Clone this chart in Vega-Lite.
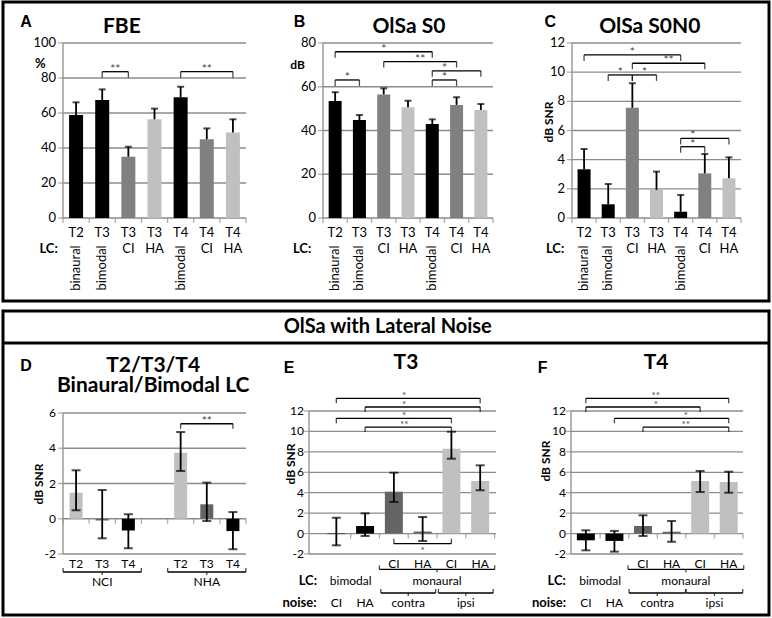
{
"$schema":"https://vega.github.io/schema/vega-lite/v6.json",
"padding":0,
"background":"#ffffff",
"config":{"view":{"stroke":"#000000","strokeWidth":3},"axis":{"disable":true},"legend":{"disable":true},"text":{"font":"Lato","fontSize":12,"color":"#000000"},"tick":{"color":"#000000"},"rule":{"color":"#000000"}},
"datasets":{
"A":[{"i":0,"t":"T2","lc":"binaural","v":58.9,"hi":66.1,"c":"k"},{"i":1,"t":"T3","lc":"bimodal","v":67.4,"hi":73.5,"c":"k"},{"i":2,"t":"T3","lc":"CI","v":35.0,"hi":40.7,"c":"d"},{"i":3,"t":"T3","lc":"HA","v":56.4,"hi":62.5,"c":"l"},{"i":4,"t":"T4","lc":"bimodal","v":69.0,"hi":75.0,"c":"k"},{"i":5,"t":"T4","lc":"CI","v":45.0,"hi":51.2,"c":"d"},{"i":6,"t":"T4","lc":"HA","v":48.8,"hi":56.4,"c":"l"}],
"Ab":[{"a":1,"b":2,"h":83.6,"m":1.5,"s":"**"},{"a":4,"b":6,"h":83.6,"m":5,"s":"**"}],
"B":[{"i":0,"t":"T2","lc":"binaural","v":53.5,"hi":57.5,"c":"k"},{"i":1,"t":"T3","lc":"bimodal","v":44.8,"hi":47.1,"c":"k"},{"i":2,"t":"T3","lc":"CI","v":56.5,"hi":59.3,"c":"d"},{"i":3,"t":"T3","lc":"HA","v":50.6,"hi":53.6,"c":"l"},{"i":4,"t":"T4","lc":"bimodal","v":43.0,"hi":45.1,"c":"k"},{"i":5,"t":"T4","lc":"CI","v":51.7,"hi":55.2,"c":"d"},{"i":6,"t":"T4","lc":"HA","v":49.4,"hi":52.1,"c":"l"}],
"Bb":[{"a":0,"b":4,"h":76.0,"m":2,"s":"*"},{"a":2,"b":5,"h":71.5,"m":3.5,"s":"**"},{"a":4,"b":6,"h":67.3,"m":4.5,"s":"*"},{"a":4,"b":5,"h":63.1,"m":4.5,"s":"*"},{"a":0,"b":1,"h":63.1,"m":0.5,"s":"*"}],
"C":[{"i":0,"t":"T2","lc":"binaural","v":3.34,"hi":4.73,"c":"k"},{"i":1,"t":"T3","lc":"bimodal","v":0.94,"hi":2.33,"c":"k"},{"i":2,"t":"T3","lc":"CI","v":7.56,"hi":9.24,"c":"d"},{"i":3,"t":"T3","lc":"HA","v":1.92,"hi":3.18,"c":"l"},{"i":4,"t":"T4","lc":"bimodal","v":0.43,"hi":1.58,"c":"k"},{"i":5,"t":"T4","lc":"CI","v":3.06,"hi":4.39,"c":"d"},{"i":6,"t":"T4","lc":"HA","v":2.72,"hi":4.16,"c":"l"}],
"Cb":[{"a":0,"b":4,"h":11.18,"m":2,"s":"*"},{"a":2,"b":5,"h":10.61,"m":3.5,"s":"**"},{"a":1,"b":2,"h":9.81,"m":1.5,"s":"*"},{"a":2,"b":3,"h":9.81,"m":2.5,"s":"*"},{"a":4,"b":6,"h":5.46,"m":4.5,"s":"*"},{"a":4,"b":5,"h":4.89,"m":4.5,"s":"*"}],
"D":[{"i":0,"g":"NCI","t":"T2","v":1.48,"lo":0.48,"hi":2.75,"c":"l"},{"i":1,"g":"NCI","t":"T3","v":-0.1,"lo":-1.11,"hi":1.63,"c":"e"},{"i":2,"g":"NCI","t":"T4","v":-0.66,"lo":-1.68,"hi":0.25,"c":"k"},{"i":4,"g":"NHA","t":"T2","v":3.75,"lo":2.71,"hi":4.92,"c":"l"},{"i":5,"g":"NHA","t":"T3","v":0.82,"lo":-0.13,"hi":2.05,"c":"e"},{"i":6,"g":"NHA","t":"T4","v":-0.7,"lo":-1.73,"hi":0.38,"c":"k"}],
"Db":[{"a":4,"b":6,"h":5.39,"m":5,"s":"**"}],
"E":[{"i":0,"lc":"bimodal","dev":"","noise":"CI","v":-0.05,"lo":-1.15,"hi":1.55,"c":"k"},{"i":1,"lc":"bimodal","dev":"","noise":"HA","v":0.74,"lo":-0.24,"hi":1.98,"c":"k"},{"i":2,"lc":"monaural","dev":"CI","noise":"contra","v":4.1,"lo":3.09,"hi":5.96,"c":"e"},{"i":3,"lc":"monaural","dev":"HA","noise":"contra","v":0.2,"lo":-0.73,"hi":1.62,"c":"e"},{"i":4,"lc":"monaural","dev":"CI","noise":"ipsi","v":8.31,"lo":7.33,"hi":9.97,"c":"l"},{"i":5,"lc":"monaural","dev":"HA","noise":"ipsi","v":5.15,"lo":4.24,"hi":6.68,"c":"l"}],
"Eb":[{"a":0,"b":5,"h":13.24,"m":2.36,"s":"*"},{"a":1,"b":5,"h":12.39,"m":2.36,"s":"*"},{"a":0,"b":4,"h":11.28,"m":2.36,"s":"*"},{"a":1,"b":4,"h":10.43,"m":2.36,"s":"**"}],
"El":[{"a":2,"b":4,"h":-0.99,"m":3,"s":"*"}],
"F":[{"i":0,"lc":"bimodal","dev":"","noise":"CI","v":-0.66,"lo":-1.64,"hi":0.32,"c":"k"},{"i":1,"lc":"bimodal","dev":"","noise":"HA","v":-0.72,"lo":-1.77,"hi":0.26,"c":"k"},{"i":2,"lc":"monaural","dev":"CI","noise":"contra","v":0.74,"lo":-0.24,"hi":1.79,"c":"e"},{"i":3,"lc":"monaural","dev":"HA","noise":"contra","v":0.18,"lo":-0.8,"hi":1.23,"c":"e"},{"i":4,"lc":"monaural","dev":"CI","noise":"ipsi","v":5.15,"lo":4.07,"hi":6.13,"c":"l"},{"i":5,"lc":"monaural","dev":"HA","noise":"ipsi","v":5.05,"lo":4.0,"hi":6.06,"c":"l"}],
"Fb":[{"a":0,"b":5,"h":13.24,"m":2.45,"s":"**"},{"a":0,"b":4,"h":12.39,"m":2.45,"s":"*"},{"a":1,"b":5,"h":11.28,"m":3.5,"s":"*"},{"a":2,"b":5,"h":10.43,"m":3.5,"s":"**"}]
},
"spacing":6,
"vconcat":[
{"width":766,"height":299,"resolve":{"scale":{"x":"independent","y":"independent"}},
"layer":[
{"layer":[
 {"data":{"values":[{"y":0},{"y":20},{"y":40},{"y":60},{"y":80},{"y":100}]},"layer":[
  {"mark":{"type":"rule","color":"#8c8c8c","strokeWidth":1.3},"encoding":{"x":{"datum":-0.5,"type":"quantitative","scale":{"domain":[-0.5,6.5],"range":[55,248],"nice":false,"zero":false}},"x2":{"datum":6.5},"y":{"field":"y","type":"quantitative","scale":{"domain":[0,100],"range":[216,41],"nice":false,"zero":false}}}},
  {"mark":{"type":"tick","orient":"horizontal","color":"#8c8c8c","thickness":1.3,"xOffset":-2.5},"encoding":{"x":{"datum":-0.5,"type":"quantitative"},"y":{"field":"y","type":"quantitative"},"size":{"value":5}}},
  {"mark":{"type":"text","align":"right","dx":-7,"fontSize":13},"encoding":{"x":{"datum":-0.5,"type":"quantitative"},"y":{"field":"y","type":"quantitative"},"text":{"field":"y","type":"nominal"}}}
 ]},
 {"data":{"values":[{"x":-0.5},{"x":0.5},{"x":1.5},{"x":2.5},{"x":3.5},{"x":4.5},{"x":5.5},{"x":6.5}]},"mark":{"type":"tick","orient":"vertical","color":"#8c8c8c","thickness":1.3,"yOffset":2.5},"encoding":{"x":{"field":"x","type":"quantitative"},"y":{"datum":0,"type":"quantitative"},"size":{"value":5}}},
 {"data":{"values":[{}]},"layer":[
  {"mark":{"type":"rule","color":"#8c8c8c","strokeWidth":1.3},"encoding":{"x":{"datum":-0.5,"type":"quantitative"},"y":{"datum":0,"type":"quantitative"},"y2":{"datum":100}}},
  {"mark":{"type":"text","text":"FBE","fontSize":21,"fontWeight":"bold"},"encoding":{"x":{"datum":1.75,"type":"quantitative"},"y":{"datum":109.1,"type":"quantitative"}}},
  {"mark":{"type":"text","text":"A","font":"Liberation Sans","fontSize":16,"fontWeight":"bold"},"encoding":{"x":{"datum":-1.91,"type":"quantitative"},"y":{"datum":112,"type":"quantitative"}}},
  {"mark":{"type":"text","text":"%","fontSize":13,"fontWeight":"bold"},"encoding":{"x":{"datum":-1.37,"type":"quantitative"},"y":{"datum":88,"type":"quantitative"}}},
  {"mark":{"type":"text","text":"LC:","fontSize":13,"fontWeight":"bold"},"encoding":{"x":{"datum":-1.05,"type":"quantitative"},"y":{"datum":-17.7,"type":"quantitative"}}}
 ]},
 {"data":{"name":"A"},"layer":[
  {"mark":{"type":"bar","size":14},"encoding":{"x":{"field":"i","type":"quantitative"},"y":{"field":"v","type":"quantitative"},"y2":{"datum":0},"color":{"field":"c","type":"nominal","scale":{"domain":["k","d","e","l"],"range":["#000000","#808080","#646464","#c0c0c0"]},"legend":null}}},
  {"mark":{"type":"rule","strokeWidth":1.8},"encoding":{"x":{"field":"i","type":"quantitative"},"y":{"field":"v","type":"quantitative"},"y2":{"field":"hi"}}},
  {"mark":{"type":"tick","orient":"horizontal","thickness":2},"encoding":{"x":{"field":"i","type":"quantitative"},"y":{"field":"hi","type":"quantitative"},"size":{"value":7}}},
  {"mark":{"type":"text","fontSize":13},"encoding":{"x":{"field":"i","type":"quantitative"},"y":{"datum":-8.6,"type":"quantitative"},"text":{"field":"t","type":"nominal"}}},
  {"transform":[{"filter":"datum.c != 'k'"}],"mark":{"type":"text","fontSize":13},"encoding":{"x":{"field":"i","type":"quantitative"},"y":{"datum":-17.7,"type":"quantitative"},"text":{"field":"lc","type":"nominal"}}},
  {"transform":[{"filter":"datum.c == 'k'"}],"mark":{"type":"text","fontSize":13,"angle":270,"align":"right"},"encoding":{"x":{"field":"i","type":"quantitative"},"y":{"datum":-15.6,"type":"quantitative"},"text":{"field":"lc","type":"nominal"}}}
 ]},
 {"data":{"name":"Ab"},"layer":[
  {"mark":{"type":"rule","strokeWidth":1.3},"encoding":{"x":{"field":"a","type":"quantitative"},"x2":{"field":"b"},"y":{"field":"h","type":"quantitative"}}},
  {"mark":{"type":"tick","orient":"vertical","thickness":1.3,"yOffset":3},"encoding":{"x":{"field":"a","type":"quantitative"},"y":{"field":"h","type":"quantitative"},"size":{"value":6}}},
  {"mark":{"type":"tick","orient":"vertical","thickness":1.3,"yOffset":3},"encoding":{"x":{"field":"b","type":"quantitative"},"y":{"field":"h","type":"quantitative"},"size":{"value":6}}},
  {"mark":{"type":"text","fontSize":12,"color":"#444444","dy":-3},"encoding":{"x":{"field":"m","type":"quantitative"},"y":{"field":"h","type":"quantitative"},"text":{"field":"s","type":"nominal"}}}
 ]}
]},
{"layer":[
 {"data":{"values":[{"y":0},{"y":20},{"y":40},{"y":60},{"y":80}]},"layer":[
  {"mark":{"type":"rule","color":"#8c8c8c","strokeWidth":1.3},"encoding":{"x":{"datum":-0.5,"type":"quantitative","scale":{"domain":[-0.5,6.5],"range":[315,495],"nice":false,"zero":false}},"x2":{"datum":6.5},"y":{"field":"y","type":"quantitative","scale":{"domain":[0,80],"range":[216,41],"nice":false,"zero":false}}}},
  {"mark":{"type":"tick","orient":"horizontal","color":"#8c8c8c","thickness":1.3,"xOffset":-2.5},"encoding":{"x":{"datum":-0.5,"type":"quantitative"},"y":{"field":"y","type":"quantitative"},"size":{"value":5}}},
  {"mark":{"type":"text","align":"right","dx":-7,"fontSize":13},"encoding":{"x":{"datum":-0.5,"type":"quantitative"},"y":{"field":"y","type":"quantitative"},"text":{"field":"y","type":"nominal"}}}
 ]},
 {"data":{"values":[{"x":-0.5},{"x":0.5},{"x":1.5},{"x":2.5},{"x":3.5},{"x":4.5},{"x":5.5},{"x":6.5}]},"mark":{"type":"tick","orient":"vertical","color":"#8c8c8c","thickness":1.3,"yOffset":2.5},"encoding":{"x":{"field":"x","type":"quantitative"},"y":{"datum":0,"type":"quantitative"},"size":{"value":5}}},
 {"data":{"values":[{}]},"layer":[
  {"mark":{"type":"rule","color":"#8c8c8c","strokeWidth":1.3},"encoding":{"x":{"datum":-0.5,"type":"quantitative"},"y":{"datum":0,"type":"quantitative"},"y2":{"datum":80}}},
  {"mark":{"type":"text","text":"OlSa S0","fontSize":21,"fontWeight":"bold"},"encoding":{"x":{"datum":3.04,"type":"quantitative"},"y":{"datum":87.3,"type":"quantitative"}}},
  {"mark":{"type":"text","text":"B","font":"Liberation Sans","fontSize":16,"fontWeight":"bold"},"encoding":{"x":{"datum":-1.47,"type":"quantitative"},"y":{"datum":89.6,"type":"quantitative"}}},
  {"mark":{"type":"text","text":"dB","fontSize":12,"fontWeight":"bold"},"encoding":{"x":{"datum":-1.55,"type":"quantitative"},"y":{"datum":69.9,"type":"quantitative"}}},
  {"mark":{"type":"text","text":"LC:","fontSize":13,"fontWeight":"bold"},"encoding":{"x":{"datum":-1.36,"type":"quantitative"},"y":{"datum":-14.2,"type":"quantitative"}}}
 ]},
 {"data":{"name":"B"},"layer":[
  {"mark":{"type":"bar","size":13},"encoding":{"x":{"field":"i","type":"quantitative"},"y":{"field":"v","type":"quantitative"},"y2":{"datum":0},"color":{"field":"c","type":"nominal","scale":{"domain":["k","d","e","l"],"range":["#000000","#808080","#646464","#c0c0c0"]},"legend":null}}},
  {"mark":{"type":"rule","strokeWidth":1.8},"encoding":{"x":{"field":"i","type":"quantitative"},"y":{"field":"v","type":"quantitative"},"y2":{"field":"hi"}}},
  {"mark":{"type":"tick","orient":"horizontal","thickness":2},"encoding":{"x":{"field":"i","type":"quantitative"},"y":{"field":"hi","type":"quantitative"},"size":{"value":7}}},
  {"mark":{"type":"text","fontSize":13},"encoding":{"x":{"field":"i","type":"quantitative"},"y":{"datum":-6.86,"type":"quantitative"},"text":{"field":"t","type":"nominal"}}},
  {"transform":[{"filter":"datum.c != 'k'"}],"mark":{"type":"text","fontSize":13},"encoding":{"x":{"field":"i","type":"quantitative"},"y":{"datum":-14.17,"type":"quantitative"},"text":{"field":"lc","type":"nominal"}}},
  {"transform":[{"filter":"datum.c == 'k'"}],"mark":{"type":"text","fontSize":13,"angle":270,"align":"right"},"encoding":{"x":{"field":"i","type":"quantitative"},"y":{"datum":-12.5,"type":"quantitative"},"text":{"field":"lc","type":"nominal"}}}
 ]},
 {"data":{"name":"Bb"},"layer":[
  {"mark":{"type":"rule","strokeWidth":1.3},"encoding":{"x":{"field":"a","type":"quantitative"},"x2":{"field":"b"},"y":{"field":"h","type":"quantitative"}}},
  {"mark":{"type":"tick","orient":"vertical","thickness":1.3,"yOffset":3},"encoding":{"x":{"field":"a","type":"quantitative"},"y":{"field":"h","type":"quantitative"},"size":{"value":6}}},
  {"mark":{"type":"tick","orient":"vertical","thickness":1.3,"yOffset":3},"encoding":{"x":{"field":"b","type":"quantitative"},"y":{"field":"h","type":"quantitative"},"size":{"value":6}}},
  {"mark":{"type":"text","fontSize":12,"color":"#444444","dy":-3},"encoding":{"x":{"field":"m","type":"quantitative"},"y":{"field":"h","type":"quantitative"},"text":{"field":"s","type":"nominal"}}}
 ]}
]},
{"layer":[
 {"data":{"values":[{"y":0},{"y":2},{"y":4},{"y":6},{"y":8},{"y":10},{"y":12}]},"layer":[
  {"mark":{"type":"rule","color":"#8c8c8c","strokeWidth":1.3},"encoding":{"x":{"datum":-0.5,"type":"quantitative","scale":{"domain":[-0.5,6.5],"range":[564,743],"nice":false,"zero":false}},"x2":{"datum":6.5},"y":{"field":"y","type":"quantitative","scale":{"domain":[0,12],"range":[216,41],"nice":false,"zero":false}}}},
  {"mark":{"type":"tick","orient":"horizontal","color":"#8c8c8c","thickness":1.3,"xOffset":-2.5},"encoding":{"x":{"datum":-0.5,"type":"quantitative"},"y":{"field":"y","type":"quantitative"},"size":{"value":5}}},
  {"mark":{"type":"text","align":"right","dx":-7,"fontSize":13},"encoding":{"x":{"datum":-0.5,"type":"quantitative"},"y":{"field":"y","type":"quantitative"},"text":{"field":"y","type":"nominal"}}}
 ]},
 {"data":{"values":[{"x":-0.5},{"x":0.5},{"x":1.5},{"x":2.5},{"x":3.5},{"x":4.5},{"x":5.5},{"x":6.5}]},"mark":{"type":"tick","orient":"vertical","color":"#8c8c8c","thickness":1.3,"yOffset":2.5},"encoding":{"x":{"field":"x","type":"quantitative"},"y":{"datum":0,"type":"quantitative"},"size":{"value":5}}},
 {"data":{"values":[{}]},"layer":[
  {"mark":{"type":"rule","color":"#8c8c8c","strokeWidth":1.3},"encoding":{"x":{"datum":-0.5,"type":"quantitative"},"y":{"datum":0,"type":"quantitative"},"y2":{"datum":12}}},
  {"mark":{"type":"text","text":"OlSa S0N0","fontSize":21,"fontWeight":"bold"},"encoding":{"x":{"datum":2.72,"type":"quantitative"},"y":{"datum":13.1,"type":"quantitative"}}},
  {"mark":{"type":"text","text":"C","font":"Liberation Sans","fontSize":16,"fontWeight":"bold"},"encoding":{"x":{"datum":-1.4,"type":"quantitative"},"y":{"datum":13.44,"type":"quantitative"}}},
  {"mark":{"type":"text","text":"dB SNR","fontSize":12,"fontWeight":"bold","angle":270},"encoding":{"x":{"datum":-1.45,"type":"quantitative"},"y":{"datum":6.58,"type":"quantitative"}}},
  {"mark":{"type":"text","text":"LC:","fontSize":13,"fontWeight":"bold"},"encoding":{"x":{"datum":-1.2,"type":"quantitative"},"y":{"datum":-2.13,"type":"quantitative"}}}
 ]},
 {"data":{"name":"C"},"layer":[
  {"mark":{"type":"bar","size":13},"encoding":{"x":{"field":"i","type":"quantitative"},"y":{"field":"v","type":"quantitative"},"y2":{"datum":0},"color":{"field":"c","type":"nominal","scale":{"domain":["k","d","e","l"],"range":["#000000","#808080","#646464","#c0c0c0"]},"legend":null}}},
  {"mark":{"type":"rule","strokeWidth":1.8},"encoding":{"x":{"field":"i","type":"quantitative"},"y":{"field":"v","type":"quantitative"},"y2":{"field":"hi"}}},
  {"mark":{"type":"tick","orient":"horizontal","thickness":2},"encoding":{"x":{"field":"i","type":"quantitative"},"y":{"field":"hi","type":"quantitative"},"size":{"value":7}}},
  {"mark":{"type":"text","fontSize":13},"encoding":{"x":{"field":"i","type":"quantitative"},"y":{"datum":-1.03,"type":"quantitative"},"text":{"field":"t","type":"nominal"}}},
  {"transform":[{"filter":"datum.c != 'k'"}],"mark":{"type":"text","fontSize":13},"encoding":{"x":{"field":"i","type":"quantitative"},"y":{"datum":-2.13,"type":"quantitative"},"text":{"field":"lc","type":"nominal"}}},
  {"transform":[{"filter":"datum.c == 'k'"}],"mark":{"type":"text","fontSize":13,"angle":270,"align":"right"},"encoding":{"x":{"field":"i","type":"quantitative"},"y":{"datum":-1.88,"type":"quantitative"},"text":{"field":"lc","type":"nominal"}}}
 ]},
 {"data":{"name":"Cb"},"layer":[
  {"mark":{"type":"rule","strokeWidth":1.3},"encoding":{"x":{"field":"a","type":"quantitative"},"x2":{"field":"b"},"y":{"field":"h","type":"quantitative"}}},
  {"mark":{"type":"tick","orient":"vertical","thickness":1.3,"yOffset":3},"encoding":{"x":{"field":"a","type":"quantitative"},"y":{"field":"h","type":"quantitative"},"size":{"value":6}}},
  {"mark":{"type":"tick","orient":"vertical","thickness":1.3,"yOffset":3},"encoding":{"x":{"field":"b","type":"quantitative"},"y":{"field":"h","type":"quantitative"},"size":{"value":6}}},
  {"mark":{"type":"text","fontSize":12,"color":"#444444","dy":-3},"encoding":{"x":{"field":"m","type":"quantitative"},"y":{"field":"h","type":"quantitative"},"text":{"field":"s","type":"nominal"}}}
 ]}
]}
]},
{"width":766,"height":304,"resolve":{"scale":{"x":"independent","y":"independent"}},
"layer":[
{"layer":[
 {"data":{"values":[{"y":-2},{"y":0},{"y":2},{"y":4},{"y":6}]},"layer":[
  {"mark":{"type":"rule","color":"#8c8c8c","strokeWidth":1.3},"encoding":{"x":{"datum":-0.5,"type":"quantitative","scale":{"domain":[-0.5,6.5],"range":[55,248],"nice":false,"zero":false}},"x2":{"datum":6.5},"y":{"field":"y","type":"quantitative","scale":{"domain":[-2,6],"range":[243,102],"nice":false,"zero":false}}}},
  {"mark":{"type":"tick","orient":"horizontal","color":"#8c8c8c","thickness":1.3,"xOffset":-2.5},"encoding":{"x":{"datum":-0.5,"type":"quantitative"},"y":{"field":"y","type":"quantitative"},"size":{"value":5}}},
  {"mark":{"type":"text","align":"right","dx":-7},"encoding":{"x":{"datum":-0.5,"type":"quantitative"},"y":{"field":"y","type":"quantitative"},"text":{"field":"y","type":"nominal"}}}
 ]},
 {"data":{"values":[{"x":-0.5},{"x":0.5},{"x":1.5},{"x":2.5},{"x":3.5},{"x":4.5},{"x":5.5},{"x":6.5}]},"mark":{"type":"tick","orient":"vertical","color":"#8c8c8c","thickness":1.3,"yOffset":2.5},"encoding":{"x":{"field":"x","type":"quantitative"},"y":{"datum":0,"type":"quantitative"},"size":{"value":5}}},
 {"data":{"values":[{}]},"layer":[
  {"mark":{"type":"rule","color":"#8c8c8c","strokeWidth":1.3},"encoding":{"x":{"datum":-0.5,"type":"quantitative"},"y":{"datum":-2,"type":"quantitative"},"y2":{"datum":6}}},
  {"mark":{"type":"text","text":"T2/T3/T4","fontSize":21,"fontWeight":"bold"},"encoding":{"x":{"datum":2.95,"type":"quantitative"},"y":{"datum":8.67,"type":"quantitative"}}},
  {"mark":{"type":"text","text":"Binaural/Bimodal LC","fontSize":21,"fontWeight":"bold"},"encoding":{"x":{"datum":2.95,"type":"quantitative"},"y":{"datum":7.53,"type":"quantitative"}}},
  {"mark":{"type":"text","text":"D","font":"Liberation Sans","fontSize":16,"fontWeight":"bold"},"encoding":{"x":{"datum":-1.91,"type":"quantitative"},"y":{"datum":8.67,"type":"quantitative"}}},
  {"mark":{"type":"text","text":"dB SNR","fontSize":12,"fontWeight":"bold","angle":270},"encoding":{"x":{"datum":-1.4,"type":"quantitative"},"y":{"datum":1.97,"type":"quantitative"}}}
 ]},
 {"data":{"name":"D"},"layer":[
  {"mark":{"type":"bar","size":13},"encoding":{"x":{"field":"i","type":"quantitative"},"y":{"field":"v","type":"quantitative"},"y2":{"datum":0},"color":{"field":"c","type":"nominal","scale":{"domain":["k","d","e","l"],"range":["#000000","#808080","#646464","#c0c0c0"]},"legend":null}}},
  {"mark":{"type":"rule","strokeWidth":1.8},"encoding":{"x":{"field":"i","type":"quantitative"},"y":{"field":"lo","type":"quantitative"},"y2":{"field":"hi"}}},
  {"mark":{"type":"tick","orient":"horizontal","thickness":2},"encoding":{"x":{"field":"i","type":"quantitative"},"y":{"field":"hi","type":"quantitative"},"size":{"value":9}}},
  {"mark":{"type":"tick","orient":"horizontal","thickness":2},"encoding":{"x":{"field":"i","type":"quantitative"},"y":{"field":"lo","type":"quantitative"},"size":{"value":9}}},
  {"mark":{"type":"text","fontSize":12},"encoding":{"x":{"field":"i","type":"quantitative"},"y":{"datum":-2.57,"type":"quantitative"},"text":{"field":"t","type":"nominal"}}}
 ]},
 {"data":{"name":"D"},"transform":[{"aggregate":[{"op":"min","field":"i","as":"mn"},{"op":"max","field":"i","as":"mx"},{"op":"mean","field":"i","as":"me"}],"groupby":["g"]}],"layer":[
  {"mark":{"type":"text","fontSize":12},"encoding":{"x":{"field":"me","type":"quantitative"},"y":{"datum":-3.58,"type":"quantitative"},"text":{"field":"g","type":"nominal"}}},
  {"mark":{"type":"rule","strokeWidth":1.3,"xOffset":-13,"x2Offset":13},"encoding":{"x":{"field":"mn","type":"quantitative"},"x2":{"field":"mx"},"y":{"datum":-3.02,"type":"quantitative"}}},
  {"mark":{"type":"tick","orient":"vertical","thickness":1.3,"xOffset":-13,"yOffset":-2},"encoding":{"x":{"field":"mn","type":"quantitative"},"y":{"datum":-3.02,"type":"quantitative"},"size":{"value":4}}},
  {"mark":{"type":"tick","orient":"vertical","thickness":1.3,"xOffset":13,"yOffset":-2},"encoding":{"x":{"field":"mx","type":"quantitative"},"y":{"datum":-3.02,"type":"quantitative"},"size":{"value":4}}},
  {"mark":{"type":"tick","orient":"vertical","thickness":1.3,"yOffset":1.5},"encoding":{"x":{"field":"me","type":"quantitative"},"y":{"datum":-3.02,"type":"quantitative"},"size":{"value":3}}}
 ]},
 {"data":{"name":"Db"},"layer":[
  {"mark":{"type":"rule","strokeWidth":1.3},"encoding":{"x":{"field":"a","type":"quantitative"},"x2":{"field":"b"},"y":{"field":"h","type":"quantitative"}}},
  {"mark":{"type":"tick","orient":"vertical","thickness":1.3,"yOffset":2.5},"encoding":{"x":{"field":"a","type":"quantitative"},"y":{"field":"h","type":"quantitative"},"size":{"value":5}}},
  {"mark":{"type":"tick","orient":"vertical","thickness":1.3,"yOffset":2.5},"encoding":{"x":{"field":"b","type":"quantitative"},"y":{"field":"h","type":"quantitative"},"size":{"value":5}}},
  {"mark":{"type":"text","fontSize":12,"color":"#444444","dy":-3},"encoding":{"x":{"field":"m","type":"quantitative"},"y":{"field":"h","type":"quantitative"},"text":{"field":"s","type":"nominal"}}}
 ]}
]},
{"layer":[
 {"data":{"values":[{"y":-2},{"y":0},{"y":2},{"y":4},{"y":6},{"y":8},{"y":10},{"y":12}]},"layer":[
  {"mark":{"type":"rule","color":"#8c8c8c","strokeWidth":1.3},"encoding":{"x":{"datum":-0.95,"type":"quantitative","scale":{"domain":[-0.95,5.55],"range":[301,498],"nice":false,"zero":false}},"x2":{"datum":5.55},"y":{"field":"y","type":"quantitative","scale":{"domain":[-2,12],"range":[243,100],"nice":false,"zero":false}}}},
  {"mark":{"type":"tick","orient":"horizontal","color":"#8c8c8c","thickness":1.3,"xOffset":-2.5},"encoding":{"x":{"datum":-0.95,"type":"quantitative"},"y":{"field":"y","type":"quantitative"},"size":{"value":5}}},
  {"mark":{"type":"text","align":"right","dx":-5},"encoding":{"x":{"datum":-0.95,"type":"quantitative"},"y":{"field":"y","type":"quantitative"},"text":{"field":"y","type":"nominal"}}}
 ]},
 {"data":{"values":[{"x":0.5},{"x":1.5},{"x":2.5},{"x":3.5},{"x":4.5},{"x":5.5}]},"mark":{"type":"tick","orient":"vertical","color":"#8c8c8c","thickness":1.3,"yOffset":2.5},"encoding":{"x":{"field":"x","type":"quantitative"},"y":{"datum":0,"type":"quantitative"},"size":{"value":5}}},
 {"data":{"values":[{}]},"layer":[
  {"mark":{"type":"rule","color":"#8c8c8c","strokeWidth":1.3},"encoding":{"x":{"datum":-0.95,"type":"quantitative"},"y":{"datum":-2,"type":"quantitative"},"y2":{"datum":12}}},
  {"mark":{"type":"rule","color":"#000000","strokeWidth":3},"encoding":{"y":{"datum":18.66,"type":"quantitative"}}},
  {"mark":{"type":"text","text":"OlSa with Lateral Noise","fontSize":20,"fontWeight":"bold"},"encoding":{"x":{"datum":1.79,"type":"quantitative"},"y":{"datum":20.22,"type":"quantitative"}}},
  {"mark":{"type":"text","text":"T3","fontSize":21,"fontWeight":"bold"},"encoding":{"x":{"datum":2.42,"type":"quantitative"},"y":{"datum":16.73,"type":"quantitative"}}},
  {"mark":{"type":"text","text":"E","font":"Liberation Sans","fontSize":16,"fontWeight":"bold"},"encoding":{"x":{"datum":-1.64,"type":"quantitative"},"y":{"datum":16.24,"type":"quantitative"}}},
  {"mark":{"type":"text","text":"dB SNR","fontSize":12,"fontWeight":"bold","angle":270},"encoding":{"x":{"datum":-1.56,"type":"quantitative"},"y":{"datum":6.81,"type":"quantitative"}}},
  {"mark":{"type":"text","text":"LC:","fontSize":13,"fontWeight":"bold"},"encoding":{"x":{"datum":-0.99,"type":"quantitative"},"y":{"datum":-4.64,"type":"quantitative"}}},
  {"mark":{"type":"text","text":"noise:","fontSize":13,"fontWeight":"bold"},"encoding":{"x":{"datum":-1.28,"type":"quantitative"},"y":{"datum":-6.77,"type":"quantitative"}}}
 ]},
 {"data":{"name":"E"},"layer":[
  {"mark":{"type":"bar","size":18},"encoding":{"x":{"field":"i","type":"quantitative"},"y":{"field":"v","type":"quantitative"},"y2":{"datum":0},"color":{"field":"c","type":"nominal","scale":{"domain":["k","d","e","l"],"range":["#000000","#808080","#646464","#c0c0c0"]},"legend":null}}},
  {"mark":{"type":"rule","strokeWidth":1.8},"encoding":{"x":{"field":"i","type":"quantitative"},"y":{"field":"lo","type":"quantitative"},"y2":{"field":"hi"}}},
  {"mark":{"type":"tick","orient":"horizontal","thickness":2},"encoding":{"x":{"field":"i","type":"quantitative"},"y":{"field":"hi","type":"quantitative"},"size":{"value":9}}},
  {"mark":{"type":"tick","orient":"horizontal","thickness":2},"encoding":{"x":{"field":"i","type":"quantitative"},"y":{"field":"lo","type":"quantitative"},"size":{"value":9}}},
  {"transform":[{"filter":"datum.lc == 'monaural'"}],"mark":{"type":"text","fontSize":12},"encoding":{"x":{"field":"i","type":"quantitative"},"y":{"datum":-3.01,"type":"quantitative"},"text":{"field":"dev","type":"nominal"}}}
 ]},
 {"data":{"name":"E"},"transform":[{"aggregate":[{"op":"min","field":"i","as":"mn"},{"op":"max","field":"i","as":"mx"},{"op":"mean","field":"i","as":"me"}],"groupby":["lc"]}],"layer":[
  {"mark":{"type":"text","fontSize":12},"encoding":{"x":{"field":"me","type":"quantitative"},"y":{"datum":-4.64,"type":"quantitative"},"text":{"field":"lc","type":"nominal"}}},
  {"transform":[{"filter":"datum.lc == 'monaural'"}],"layer":[
   {"mark":{"type":"rule","strokeWidth":1.3,"xOffset":-14.5,"x2Offset":14.5},"encoding":{"x":{"field":"mn","type":"quantitative"},"x2":{"field":"mx"},"y":{"datum":-3.5,"type":"quantitative"}}},
   {"mark":{"type":"tick","orient":"vertical","thickness":1.3,"xOffset":-14.5,"yOffset":-2},"encoding":{"x":{"field":"mn","type":"quantitative"},"y":{"datum":-3.5,"type":"quantitative"},"size":{"value":4}}},
   {"mark":{"type":"tick","orient":"vertical","thickness":1.3,"xOffset":14.5,"yOffset":-2},"encoding":{"x":{"field":"mx","type":"quantitative"},"y":{"datum":-3.5,"type":"quantitative"},"size":{"value":4}}},
   {"mark":{"type":"tick","orient":"vertical","thickness":1.3,"yOffset":1.5},"encoding":{"x":{"field":"me","type":"quantitative"},"y":{"datum":-3.5,"type":"quantitative"},"size":{"value":3}}}
  ]}
 ]},
 {"data":{"name":"E"},"transform":[{"aggregate":[{"op":"min","field":"i","as":"mn"},{"op":"max","field":"i","as":"mx"},{"op":"mean","field":"i","as":"me"}],"groupby":["noise"]}],"layer":[
  {"mark":{"type":"text","fontSize":12},"encoding":{"x":{"field":"me","type":"quantitative"},"y":{"datum":-6.77,"type":"quantitative"},"text":{"field":"noise","type":"nominal"}}},
  {"transform":[{"filter":"datum.noise == 'contra' || datum.noise == 'ipsi'"}],"layer":[
   {"mark":{"type":"rule","strokeWidth":1.3,"xOffset":-13,"x2Offset":13},"encoding":{"x":{"field":"mn","type":"quantitative"},"x2":{"field":"mx"},"y":{"datum":-5.82,"type":"quantitative"}}},
   {"mark":{"type":"tick","orient":"vertical","thickness":1.3,"xOffset":-13,"yOffset":-2},"encoding":{"x":{"field":"mn","type":"quantitative"},"y":{"datum":-5.82,"type":"quantitative"},"size":{"value":4}}},
   {"mark":{"type":"tick","orient":"vertical","thickness":1.3,"xOffset":13,"yOffset":-2},"encoding":{"x":{"field":"mx","type":"quantitative"},"y":{"datum":-5.82,"type":"quantitative"},"size":{"value":4}}},
   {"mark":{"type":"tick","orient":"vertical","thickness":1.3,"yOffset":1.5},"encoding":{"x":{"field":"me","type":"quantitative"},"y":{"datum":-5.82,"type":"quantitative"},"size":{"value":3}}}
  ]}
 ]},
 {"data":{"name":"Eb"},"layer":[
  {"mark":{"type":"rule","strokeWidth":1.3},"encoding":{"x":{"field":"a","type":"quantitative"},"x2":{"field":"b"},"y":{"field":"h","type":"quantitative"}}},
  {"mark":{"type":"tick","orient":"vertical","thickness":1.3,"yOffset":2.5},"encoding":{"x":{"field":"a","type":"quantitative"},"y":{"field":"h","type":"quantitative"},"size":{"value":5}}},
  {"mark":{"type":"tick","orient":"vertical","thickness":1.3,"yOffset":2.5},"encoding":{"x":{"field":"b","type":"quantitative"},"y":{"field":"h","type":"quantitative"},"size":{"value":5}}},
  {"mark":{"type":"text","fontSize":10,"color":"#444444","dy":-2.5},"encoding":{"x":{"field":"m","type":"quantitative"},"y":{"field":"h","type":"quantitative"},"text":{"field":"s","type":"nominal"}}}
 ]},
 {"data":{"name":"El"},"layer":[
  {"mark":{"type":"rule","strokeWidth":1.3},"encoding":{"x":{"field":"a","type":"quantitative"},"x2":{"field":"b"},"y":{"field":"h","type":"quantitative"}}},
  {"mark":{"type":"tick","orient":"vertical","thickness":1.3,"yOffset":-2.5},"encoding":{"x":{"field":"a","type":"quantitative"},"y":{"field":"h","type":"quantitative"},"size":{"value":5}}},
  {"mark":{"type":"tick","orient":"vertical","thickness":1.3,"yOffset":-2.5},"encoding":{"x":{"field":"b","type":"quantitative"},"y":{"field":"h","type":"quantitative"},"size":{"value":5}}},
  {"mark":{"type":"text","fontSize":10,"color":"#444444","dy":7},"encoding":{"x":{"field":"m","type":"quantitative"},"y":{"field":"h","type":"quantitative"},"text":{"field":"s","type":"nominal"}}}
 ]}
]},
{"layer":[
 {"data":{"values":[{"y":-2},{"y":0},{"y":2},{"y":4},{"y":6},{"y":8},{"y":10},{"y":12}]},"layer":[
  {"mark":{"type":"rule","color":"#8c8c8c","strokeWidth":1.3},"encoding":{"x":{"datum":-0.52,"type":"quantitative","scale":{"domain":[-0.52,5.5],"range":[563,745],"nice":false,"zero":false}},"x2":{"datum":5.5},"y":{"field":"y","type":"quantitative","scale":{"domain":[-2,12],"range":[243,100],"nice":false,"zero":false}}}},
  {"mark":{"type":"tick","orient":"horizontal","color":"#8c8c8c","thickness":1.3,"xOffset":-2.5},"encoding":{"x":{"datum":-0.52,"type":"quantitative"},"y":{"field":"y","type":"quantitative"},"size":{"value":5}}},
  {"mark":{"type":"text","align":"right","dx":-5},"encoding":{"x":{"datum":-0.52,"type":"quantitative"},"y":{"field":"y","type":"quantitative"},"text":{"field":"y","type":"nominal"}}}
 ]},
 {"data":{"values":[{"x":0.5},{"x":1.5},{"x":2.5},{"x":3.5},{"x":4.5},{"x":5.5}]},"mark":{"type":"tick","orient":"vertical","color":"#8c8c8c","thickness":1.3,"yOffset":2.5},"encoding":{"x":{"field":"x","type":"quantitative"},"y":{"datum":0,"type":"quantitative"},"size":{"value":5}}},
 {"data":{"values":[{}]},"layer":[
  {"mark":{"type":"rule","color":"#8c8c8c","strokeWidth":1.3},"encoding":{"x":{"datum":-0.52,"type":"quantitative"},"y":{"datum":-2,"type":"quantitative"},"y2":{"datum":12}}},
  {"mark":{"type":"text","text":"T4","fontSize":21,"fontWeight":"bold"},"encoding":{"x":{"datum":2.46,"type":"quantitative"},"y":{"datum":16.73,"type":"quantitative"}}},
  {"mark":{"type":"text","text":"F","font":"Liberation Sans","fontSize":16,"fontWeight":"bold"},"encoding":{"x":{"datum":-1.51,"type":"quantitative"},"y":{"datum":16.24,"type":"quantitative"}}},
  {"mark":{"type":"text","text":"dB SNR","fontSize":12,"fontWeight":"bold","angle":270},"encoding":{"x":{"datum":-1.4,"type":"quantitative"},"y":{"datum":7.1,"type":"quantitative"}}},
  {"mark":{"type":"text","text":"LC:","fontSize":13,"fontWeight":"bold"},"encoding":{"x":{"datum":-1.02,"type":"quantitative"},"y":{"datum":-4.64,"type":"quantitative"}}},
  {"mark":{"type":"text","text":"noise:","fontSize":13,"fontWeight":"bold"},"encoding":{"x":{"datum":-1.29,"type":"quantitative"},"y":{"datum":-6.77,"type":"quantitative"}}}
 ]},
 {"data":{"name":"F"},"layer":[
  {"mark":{"type":"bar","size":18},"encoding":{"x":{"field":"i","type":"quantitative"},"y":{"field":"v","type":"quantitative"},"y2":{"datum":0},"color":{"field":"c","type":"nominal","scale":{"domain":["k","d","e","l"],"range":["#000000","#808080","#646464","#c0c0c0"]},"legend":null}}},
  {"mark":{"type":"rule","strokeWidth":1.8},"encoding":{"x":{"field":"i","type":"quantitative"},"y":{"field":"lo","type":"quantitative"},"y2":{"field":"hi"}}},
  {"mark":{"type":"tick","orient":"horizontal","thickness":2},"encoding":{"x":{"field":"i","type":"quantitative"},"y":{"field":"hi","type":"quantitative"},"size":{"value":9}}},
  {"mark":{"type":"tick","orient":"horizontal","thickness":2},"encoding":{"x":{"field":"i","type":"quantitative"},"y":{"field":"lo","type":"quantitative"},"size":{"value":9}}},
  {"transform":[{"filter":"datum.lc == 'monaural'"}],"mark":{"type":"text","fontSize":12},"encoding":{"x":{"field":"i","type":"quantitative"},"y":{"datum":-3.01,"type":"quantitative"},"text":{"field":"dev","type":"nominal"}}}
 ]},
 {"data":{"name":"F"},"transform":[{"aggregate":[{"op":"min","field":"i","as":"mn"},{"op":"max","field":"i","as":"mx"},{"op":"mean","field":"i","as":"me"}],"groupby":["lc"]}],"layer":[
  {"mark":{"type":"text","fontSize":12},"encoding":{"x":{"field":"me","type":"quantitative"},"y":{"datum":-4.64,"type":"quantitative"},"text":{"field":"lc","type":"nominal"}}},
  {"transform":[{"filter":"datum.lc == 'monaural'"}],"layer":[
   {"mark":{"type":"rule","strokeWidth":1.3,"xOffset":-15,"x2Offset":15},"encoding":{"x":{"field":"mn","type":"quantitative"},"x2":{"field":"mx"},"y":{"datum":-3.5,"type":"quantitative"}}},
   {"mark":{"type":"tick","orient":"vertical","thickness":1.3,"xOffset":-15,"yOffset":-2},"encoding":{"x":{"field":"mn","type":"quantitative"},"y":{"datum":-3.5,"type":"quantitative"},"size":{"value":4}}},
   {"mark":{"type":"tick","orient":"vertical","thickness":1.3,"xOffset":15,"yOffset":-2},"encoding":{"x":{"field":"mx","type":"quantitative"},"y":{"datum":-3.5,"type":"quantitative"},"size":{"value":4}}},
   {"mark":{"type":"tick","orient":"vertical","thickness":1.3,"yOffset":1.5},"encoding":{"x":{"field":"me","type":"quantitative"},"y":{"datum":-3.5,"type":"quantitative"},"size":{"value":3}}}
  ]}
 ]},
 {"data":{"name":"F"},"transform":[{"aggregate":[{"op":"min","field":"i","as":"mn"},{"op":"max","field":"i","as":"mx"},{"op":"mean","field":"i","as":"me"}],"groupby":["noise"]}],"layer":[
  {"mark":{"type":"text","fontSize":12},"encoding":{"x":{"field":"me","type":"quantitative"},"y":{"datum":-6.77,"type":"quantitative"},"text":{"field":"noise","type":"nominal"}}},
  {"transform":[{"filter":"datum.noise == 'contra' || datum.noise == 'ipsi'"}],"layer":[
   {"mark":{"type":"rule","strokeWidth":1.3,"xOffset":-14,"x2Offset":14},"encoding":{"x":{"field":"mn","type":"quantitative"},"x2":{"field":"mx"},"y":{"datum":-5.82,"type":"quantitative"}}},
   {"mark":{"type":"tick","orient":"vertical","thickness":1.3,"xOffset":-14,"yOffset":-2},"encoding":{"x":{"field":"mn","type":"quantitative"},"y":{"datum":-5.82,"type":"quantitative"},"size":{"value":4}}},
   {"mark":{"type":"tick","orient":"vertical","thickness":1.3,"xOffset":14,"yOffset":-2},"encoding":{"x":{"field":"mx","type":"quantitative"},"y":{"datum":-5.82,"type":"quantitative"},"size":{"value":4}}},
   {"mark":{"type":"tick","orient":"vertical","thickness":1.3,"yOffset":1.5},"encoding":{"x":{"field":"me","type":"quantitative"},"y":{"datum":-5.82,"type":"quantitative"},"size":{"value":3}}}
  ]}
 ]},
 {"data":{"name":"Fb"},"layer":[
  {"mark":{"type":"rule","strokeWidth":1.3},"encoding":{"x":{"field":"a","type":"quantitative"},"x2":{"field":"b"},"y":{"field":"h","type":"quantitative"}}},
  {"mark":{"type":"tick","orient":"vertical","thickness":1.3,"yOffset":2.5},"encoding":{"x":{"field":"a","type":"quantitative"},"y":{"field":"h","type":"quantitative"},"size":{"value":5}}},
  {"mark":{"type":"tick","orient":"vertical","thickness":1.3,"yOffset":2.5},"encoding":{"x":{"field":"b","type":"quantitative"},"y":{"field":"h","type":"quantitative"},"size":{"value":5}}},
  {"mark":{"type":"text","fontSize":10,"color":"#444444","dy":-2.5},"encoding":{"x":{"field":"m","type":"quantitative"},"y":{"field":"h","type":"quantitative"},"text":{"field":"s","type":"nominal"}}}
 ]}
]}
]}
]
}
